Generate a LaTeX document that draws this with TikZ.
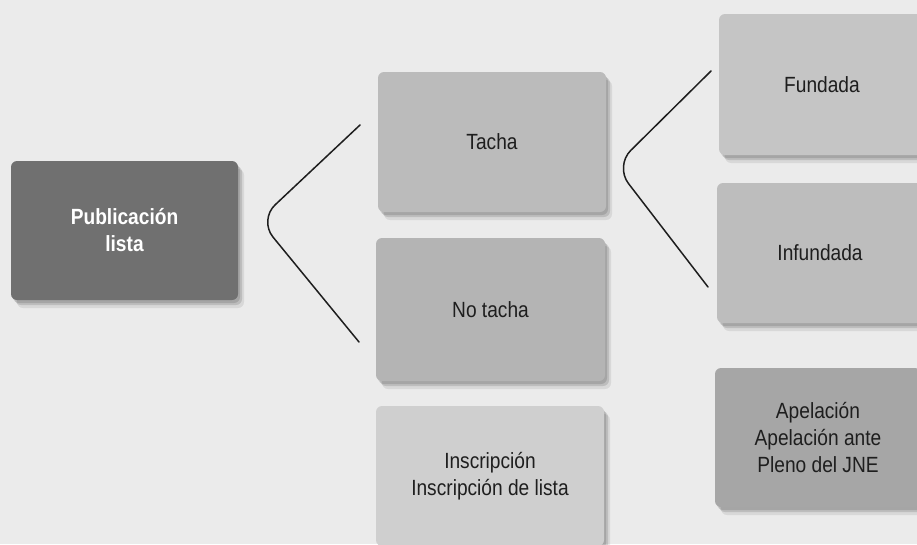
\documentclass[tikz,border=0pt]{standalone}
\usepackage{fontspec}
\setmainfont{Liberation Sans}[FakeStretch=0.87]
\usetikzlibrary{shadows}
\definecolor{bg}{HTML}{EBEBEB}
\definecolor{pubc}{HTML}{707070}
\definecolor{tachac}{HTML}{BBBBBB}
\definecolor{notachac}{HTML}{B4B4B4}
\definecolor{inscc}{HTML}{CFCFCF}
\definecolor{fundc}{HTML}{C5C5C5}
\definecolor{infundc}{HTML}{BDBDBD}
\definecolor{apelc}{HTML}{A6A6A6}
\definecolor{txt}{HTML}{1E1E1E}
\definecolor{linec}{HTML}{1E1E1E}
\tikzset{
  card/.style={rectangle, rounded corners=6pt, align=center, inner sep=0pt,
    text=txt, font=\fontsize{22}{27}\selectfont,
    general shadow={shadow xshift=2pt, shadow yshift=-3pt, fill=black, opacity=.12},
    general shadow={shadow xshift=4pt, shadow yshift=-5pt, fill=black, opacity=.12},
    general shadow={shadow xshift=6pt, shadow yshift=-8pt, fill=black, opacity=.08}},
  brace/.style={draw=linec, line width=1.5pt, rounded corners=22pt, line cap=round}
}
\begin{document}
\begin{tikzpicture}[x=1pt,y=-1pt]
\useasboundingbox (0,0) rectangle (917,544);
\clip (0,0) rectangle (917,544);
\fill[bg] (0,0) rectangle (917,544);
\node[card, fill=pubc, text=white, minimum width=227pt, minimum height=139pt, font=\fontsize{22}{27}\selectfont\bfseries] (pub) at (124.5,230.5) {Publicación\\lista};
\node[card, fill=tachac, minimum width=228pt, minimum height=140pt] (tacha) at (492,142) {Tacha};
\node[card, fill=notachac, minimum width=229pt, minimum height=143pt] (notacha) at (490.5,309.5) {No tacha};
\node[card, fill=inscc, minimum width=228pt, minimum height=140pt] (insc) at (490,476) {Inscripción\\Inscripción de lista};
\node[card, fill=fundc, minimum width=206pt, minimum height=141pt] (fund) at (822,84.5) {Fundada};
\node[card, fill=infundc, minimum width=206pt, minimum height=140pt] (infund) at (820,253) {Infundada};
\node[card, fill=apelc, minimum width=206pt, minimum height=139pt] (apel) at (818,437.5) {Apelación\\Apelación ante\\Pleno del JNE};
\coordinate (b1t) at (360,125);
\coordinate (b1v) at (259,220);
\coordinate (b1b) at (359,342);
\coordinate (b2t) at (711,71);
\coordinate (b2v) at (615,166);
\coordinate (b2b) at (708,287);
\draw[brace] (b1t) -- (b1v) -- (b1b);
\draw[brace] (b2t) -- (b2v) -- (b2b);
\end{tikzpicture}
\end{document}
